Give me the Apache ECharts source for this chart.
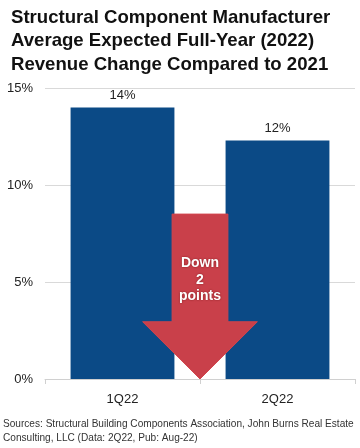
<!DOCTYPE html>
<html><head><meta charset="utf-8">
<script src="https://cdn.jsdelivr.net/npm/echarts@6/dist/echarts.min.js"></script>
<style>html,body{margin:0;padding:0;background:#fff}#c{width:360px;height:448px}</style>
</head><body><div id="c"></div>
<script>
var categories = ['1Q22', '2Q22'];
var revenueChange = [14.0, 12.3];
var valueLabels = ['14%', '12%'];
var yTicks = [0, 5, 10, 15];
var arrowTop = 8.5, arrowHeadBase = 2.95, arrowTip = 0;
var arrowText = 'Down\n2\npoints';
var titleText = 'Structural Component Manufacturer\nAverage Expected Full-Year (2022)\nRevenue Change Compared to 2021';
var sourceText = 'Sources: Structural Building Components Association, John Burns Real Estate\nConsulting, LLC (Data: 2Q22, Pub: Aug-22)';

var chart = echarts.init(document.getElementById('c'));
var font = 'Liberation Sans, Arial, sans-serif';
chart.setOption({
  animation: false,
  title: {
    text: titleText, left: 6, top: 1,
    textStyle: {fontFamily: font, fontSize: 18.6, fontWeight: 'bold', color: '#111', lineHeight: 23.5}
  },
  grid: {left: 45, right: 5, top: 88, bottom: 69},
  xAxis: {
    type: 'category', data: categories,
    axisLine: {lineStyle: {color: '#d0d0d0'}},
    axisTick: {show: true, length: 5, lineStyle: {color: '#d0d0d0'}},
    axisLabel: {fontFamily: font, fontSize: 13, color: '#222', margin: 14}
  },
  yAxis: {
    type: 'value', min: yTicks[0], max: yTicks[yTicks.length - 1], interval: 5,
    axisLine: {show: false}, axisTick: {show: false},
    splitLine: {lineStyle: {color: '#d9d9d9'}},
    axisLabel: {fontFamily: font, fontSize: 13, color: '#222', margin: 12, formatter: '{value}%'}
  },
  series: [{
    type: 'bar', data: revenueChange, barWidth: '67%',
    itemStyle: {color: '#0b4a86'},
    label: {show: true, position: 'top', distance: 5, fontFamily: font, fontSize: 13, color: '#222',
      formatter: function (p) { return valueLabels[p.dataIndex]; }}
  }]
});

function drawArrow() {
  var p0 = chart.convertToPixel({seriesIndex: 0}, [0, arrowTop]);
  var p1 = chart.convertToPixel({seriesIndex: 0}, [1, arrowHeadBase]);
  var pt = chart.convertToPixel({seriesIndex: 0}, [1, arrowTip]);
  var cx = (p0[0] + p1[0]) / 2, step = p1[0] - p0[0];
  var sw = step * 0.18, hw = step * 0.37;
  var yTop = p0[1], yBase = p1[1], yTip = pt[1];
  chart.setOption({
    graphic: [{
      type: 'polygon', z: 100,
      shape: {points: [[cx - sw, yTop], [cx + sw, yTop], [cx + sw, yBase], [cx + hw, yBase], [cx, yTip], [cx - hw, yBase], [cx - sw, yBase]]},
      style: {fill: '#c9404a', stroke: '#d2444c', lineWidth: 1}
    }, {
      type: 'text', z: 101, x: cx, y: (yTop + yBase) / 2 + 12,
      style: {text: arrowText, fill: '#fff', font: 'bold 14px ' + font, align: 'center', verticalAlign: 'middle', lineHeight: 16.5,
        textShadowColor: 'rgba(80,0,0,0.6)', textShadowBlur: 2}
    }, {
      type: 'text', left: 3, top: 417,
      style: {text: sourceText, fill: '#333', font: '10.1px ' + font, lineHeight: 14}
    }]
  });
}
drawArrow();
</script></body></html>
